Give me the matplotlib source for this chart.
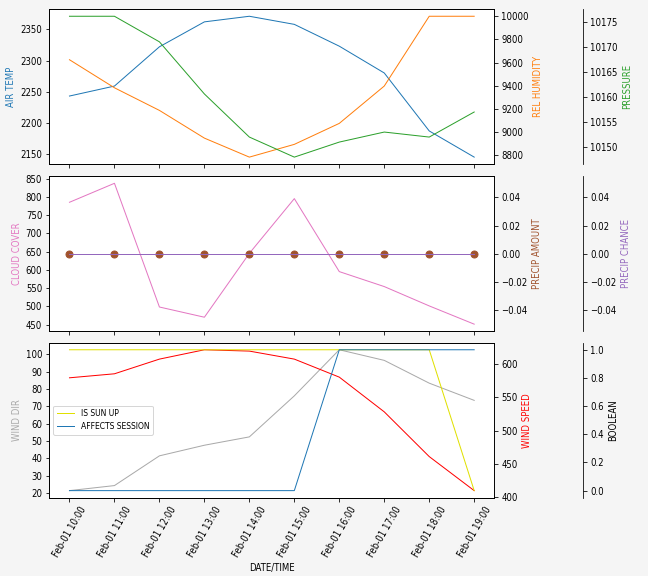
#weather forecast chart: three stacked panels with twin y axes
import numpy as np
import pandas as pd
import matplotlib
matplotlib.use("Agg")
import matplotlib.pyplot as plt
import matplotlib.dates as mdates
from matplotlib.ticker import MultipleLocator

plt.rcParams["font.family"] = "DejaVu Sans"
plt.rcParams["font.stretch"] = "condensed"
plt.rcParams["font.size"] = 9.5

times = pd.date_range("2024-02-01 10:00", periods=10, freq="h")

air_temp = [2243, 2259, 2322, 2362, 2371, 2358, 2323, 2280, 2187, 2145]
rel_humidity = [9625, 9383, 9188, 8949, 8785, 8895, 9076, 9398, 10000, 10000]
pressure = [10176.1, 10176.1, 10171.0, 10160.6, 10152.0, 10148.0, 10151.0, 10153.0, 10152.0, 10157.0]

cloud_cover = [785, 837, 498, 470, 645, 795, 595, 554, 501, 451]
precip_amount = [0, 0, 0, 0, 0, 0, 0, 0, 0, 0]
precip_chance = [0, 0, 0, 0, 0, 0, 0, 0, 0, 0]

wind_dir = [21.5, 24.4, 41.5, 47.6, 52.4, 76.0, 102.5, 96.4, 83.3, 73.4]
wind_speed = [579, 585, 607, 621, 619, 607, 580, 528, 461, 410]
is_sun_up = [1, 1, 1, 1, 1, 1, 1, 1, 1, 0]
affects_session = [0, 0, 0, 0, 0, 0, 1, 1, 1, 1]

LW = 1.0

fig = plt.figure(figsize=(9, 8), dpi=72, facecolor="#f5f5f5")
ax1 = fig.add_axes([0.076, 0.715, 0.687, 0.269])
ax2 = fig.add_axes([0.076, 0.425, 0.687, 0.269], sharex=ax1)
ax3 = fig.add_axes([0.076, 0.136, 0.687, 0.269], sharex=ax1)

def third_axis(ax):
	t = ax.twinx()
	t.spines["right"].set_position(("axes", 1.2))
	return t

#top panel
ax1.plot(times, air_temp, color="tab:blue", lw=LW)
ax1.set_ylabel("AIR TEMP", color="tab:blue")
t1 = ax1.twinx()
t1.plot(times, rel_humidity, color="tab:orange", lw=LW)
t1.set_ylabel("REL HUMIDITY", color="tab:orange")
t1b = third_axis(ax1)
t1b.plot(times, pressure, color="tab:green", lw=LW)
t1b.set_ylabel("PRESSURE", color="tab:green")

#middle panel
ax2.plot(times, cloud_cover, color="tab:pink", lw=LW)
ax2.set_ylabel("CLOUD COVER", color="tab:pink")
ax2.yaxis.set_major_locator(MultipleLocator(50))
t2 = ax2.twinx()
t2.plot(times, precip_amount, color="sienna", lw=LW, marker="o", markersize=7)
t2.set_ylabel("PRECIP AMOUNT", color="sienna")
t2b = third_axis(ax2)
t2b.plot(times, precip_chance, color="tab:purple", lw=LW)
t2b.set_ylabel("PRECIP CHANCE", color="tab:purple")

#bottom panel
ax3.plot(times, wind_dir, color="darkgray", lw=LW)
ax3.set_ylabel("WIND DIR", color="darkgray")
ax3.yaxis.set_major_locator(MultipleLocator(10))
t3 = ax3.twinx()
t3.plot(times, wind_speed, color="red", lw=LW)
t3.set_ylabel("WIND SPEED", color="red")
t3b = third_axis(ax3)
t3b.plot(times, is_sun_up, color="#e0e000", lw=LW, label="IS SUN UP")
t3b.plot(times, affects_session, color="tab:blue", lw=LW, label="AFFECTS SESSION")
t3b.set_ylabel("BOOLEAN")
t3b.legend(loc="center left", fontsize=8.5)

for a in (ax1, ax2):
	plt.setp(a.get_xticklabels(), visible=False)
ax3.xaxis.set_major_locator(mdates.HourLocator())
ax3.xaxis.set_major_formatter(mdates.DateFormatter("%b-%d %H:%M"))
plt.setp(ax3.get_xticklabels(), rotation=60)
ax3.set_xlabel("DATE/TIME")

fig.savefig("out.png", dpi=72, facecolor=fig.get_facecolor())
